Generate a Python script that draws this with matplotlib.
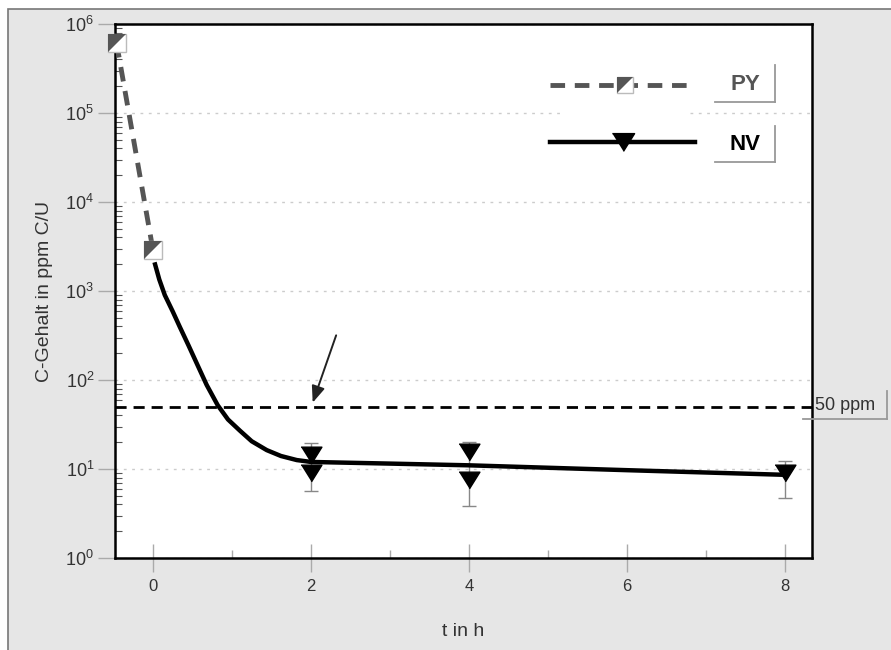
import numpy as np
import matplotlib
matplotlib.use('Agg')
import matplotlib.pyplot as plt
from matplotlib.lines import Line2D
from matplotlib.patches import Rectangle

plt.rcParams['font.family'] = ['Liberation Sans', 'DejaVu Sans']

# PY Messpunkte
py_t = [-0.46, 0.0]
py_c = [6.1e5, 2.9e3]

# NV Messpunkte
nv_t = [2, 2, 4, 4, 8]
nv_c = [14.5, 9.0, 15.5, 7.5, 9.0]

# Fehlerbalken (min / max)
err_t = [2, 4, 8]
err_lo = [5.7, 3.8, 4.7]
err_hi = [19.6, 20.0, 12.3]

# NV Ausgleichskurve
fit_t = [0.02, 0.08, 0.15, 0.25, 0.34, 0.45, 0.56, 0.68, 0.82, 0.95, 1.10, 1.25, 1.44, 1.62, 1.82, 2.0, 3.0, 4.0, 6.0, 8.0]
fit_c = [2100, 1350, 900, 590, 395, 245, 150, 88, 52, 36, 27, 20.5, 16.3, 14.0, 12.6, 12.0, 11.5, 11.0, 9.7, 8.6]

grenze = 50

W, H = 891, 650
fig = plt.figure(figsize=(W / 100, H / 100), dpi=100, facecolor='white')
fx = lambda px: px / W
fy = lambda py: 1 - py / H

# grauer Hintergrund mit Rahmen
fig.add_artist(Rectangle((fx(8), -0.05), 1.1, fy(9) + 0.05, transform=fig.transFigure,
                         facecolor='#e6e6e6', edgecolor='#777777', lw=1.2, zorder=0))

ax = fig.add_axes([fx(115), fy(558), fx(812) - fx(115), fy(24) - fy(558)])
ax.set_facecolor('white')
ax.set_yscale('log')
ax.set_xlim(-0.48, 8.34)
ax.set_ylim(1, 1e6)

for s in ax.spines.values():
    s.set_linewidth(1.8)
    s.set_color('black')

ax.set_xticks([0, 2, 4, 6, 8])
ax.set_xticks([1, 3, 5, 7], minor=True)
ax.tick_params(axis='x', which='major', direction='inout', length=20, width=1, color='#aaaaaa',
               labelsize=12, labelcolor='#333333', pad=5)
ax.tick_params(axis='x', which='minor', direction='in', length=6, width=1, color='#aaaaaa')
ax.set_yticks([10.0 ** k for k in range(7)])
ax.tick_params(axis='y', which='major', direction='out', length=12, width=1, color='#aaaaaa',
               labelsize=13, labelcolor='#333333', pad=3)
ax.tick_params(axis='y', which='minor', direction='in', length=5, width=0.8, color='#555555')

ax.yaxis.grid(True, which='major', color='#cccccc', linestyle=(0, (2, 4)), linewidth=1)
ax.set_axisbelow(True)

ax.set_xlabel('t in h', fontsize=14, color='#333333', labelpad=21)
ax.set_ylabel('C-Gehalt in ppm C/U', fontsize=14, color='#333333', labelpad=9)

# 50 ppm Grenze
ax.axhline(grenze, color='black', lw=2, linestyle=(0, (4, 2.5)), zorder=3)

# PY
tri_ul = [(-1, -1), (-1, 1), (1, 1)]
ax.plot(py_t, py_c, color='#555555', lw=3.5, linestyle=(0, (3, 2)), zorder=4)
ax.plot(py_t, py_c, 's', ms=13, mfc='white', mec='#bbbbbb', mew=1, zorder=6, clip_on=False)
ax.plot(py_t, py_c, marker=tri_ul, ls='none', ms=13, mfc='#555555', mec='#555555', mew=0,
        zorder=7, clip_on=False)

# NV
ax.plot(fit_t, fit_c, color='black', lw=3.2, zorder=5, solid_capstyle='butt', solid_joinstyle='round')
mid = np.sqrt(np.array(err_lo) * np.array(err_hi))
ax.errorbar(err_t, mid, yerr=[mid - np.array(err_lo), np.array(err_hi) - mid], fmt='none',
            ecolor='#888888', elinewidth=1, capsize=5, capthick=1, zorder=4)
tri_dn = [(-1, 0.8), (1, 0.8), (0, -0.8)]
ax.plot(nv_t, nv_c, marker=tri_dn, ls='none', ms=15, mfc='black', mec='black', zorder=6, clip_on=False)

# Pfeil
ax.annotate('', xy=(2.01, 52), xytext=(2.33, 340),
            arrowprops=dict(arrowstyle='-|>,head_length=1.0,head_width=0.4', color='#222222', lw=1.4),
            zorder=8)

# Legende
ax.add_patch(Rectangle(((562 - 115) / 697, 0.73), (687 - 562) / 697, 0.2, transform=ax.transAxes,
                       facecolor='white', edgecolor='none', zorder=2))
ax.plot([0.624, 0.828], [0.886, 0.886], transform=ax.transAxes, color='#555555', lw=3.5,
        linestyle=(0, (3, 2)), zorder=4)
ax.plot([0.732], [0.886], transform=ax.transAxes, marker='s', ms=12, mfc='white', mec='#bbbbbb', mew=1, zorder=6)
ax.plot([0.732], [0.886], transform=ax.transAxes, marker=tri_ul, ms=12, mfc='#555555', mew=0, zorder=7)
ax.plot([0.624, 0.832], [0.779, 0.779], transform=ax.transAxes, color='black', lw=3.2, zorder=4)
ax.plot([0.729], [0.779], transform=ax.transAxes, marker=tri_dn, ms=16, mfc='black', mec='black', zorder=6)

fig.text(fx(745), fy(85), 'PY', fontsize=16, fontweight='bold', color='#555555', ha='center', va='center')
fig.text(fx(745), fy(145), 'NV', fontsize=16, fontweight='bold', color='black', ha='center', va='center')
fig.text(fx(845), fy(406), '50 ppm', fontsize=13, color='#333333', ha='center', va='center')

for x0, x1, y0, y1 in [(715, 775, 65, 102), (715, 775, 126, 162), (803, 887, 391, 419)]:
    fig.add_artist(Line2D([fx(x1), fx(x1)], [fy(y0), fy(y1)], transform=fig.transFigure, color='#999999', lw=1.3))
    fig.add_artist(Line2D([fx(x0), fx(x1)], [fy(y1), fy(y1)], transform=fig.transFigure, color='#999999', lw=1.3))

fig.savefig('out.png', dpi=100, facecolor='white')
